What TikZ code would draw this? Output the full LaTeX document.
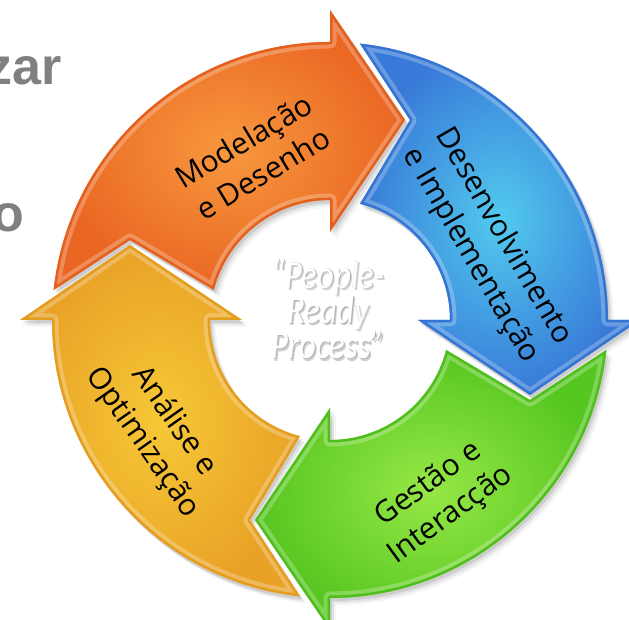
\documentclass[tikz,border=0pt]{standalone}
\usepackage{fontspec}
\setmainfont{Open Sans}
\newfontfamily\quotefont{Carlito}
\newfontfamily\slidefont{Liberation Sans}
\usetikzlibrary{calc}

% arrow colours: light centre, darker rim, edge line
\definecolor{oraIn}{RGB}{247,152,62}
\definecolor{oraOut}{RGB}{234,102,34}
\definecolor{oraEdge}{RGB}{228,96,30}
\definecolor{bluIn}{RGB}{82,202,238}
\definecolor{bluOut}{RGB}{56,122,216}
\definecolor{bluEdge}{RGB}{54,116,212}
\definecolor{grnIn}{RGB}{150,232,70}
\definecolor{grnOut}{RGB}{86,198,32}
\definecolor{grnEdge}{RGB}{80,190,28}
\definecolor{yelIn}{RGB}{246,200,55}
\definecolor{yelOut}{RGB}{233,162,38}
\definecolor{yelEdge}{RGB}{229,157,32}
\definecolor{slidegray}{RGB}{128,128,128}

\tikzset{
  % one quarter of the cycle: #1 is the angle of the tail junction,
  % the head sits 90 degrees further clockwise
  ringarrow/.style={insert path={
    ($(C)+(#1-6.19:278)$) arc[start angle=#1-6.19, end angle=#1-90, radius=278]
    -- ($(C)+(#1-90:310)$)
    -- ($(C)+(#1-90:200)+(#1-180:75)$)
    -- ($(C)+(#1-90:88)$)
    -- ($(C)+(#1-90:120)$)
    arc[start angle=#1-90, end angle=#1-14.48, radius=120]
    -- ($(C)+(#1:200)+(#1-90:80)$) -- cycle}},
  steplabel/.style={font=\fontsize{30}{38}\selectfont, align=center,
    text=black, inner sep=0pt},
  corelabel/.style={font=\quotefont\itshape\fontsize{40}{31.5}\selectfont,
    align=center, inner sep=0pt, xscale=0.82},
  slidetext/.style={font=\slidefont\bfseries\fontsize{52}{60}\selectfont,
    text=slidegray, inner sep=0pt, anchor=base east},
}

\newcommand\paintarrow[4]{% tail angle, inner colour, outer colour, edge colour
  \shade[ringarrow=#1, inner color=#2, outer color=#3];
  \begin{scope}
    \clip[ringarrow=#1];
    \draw[white, opacity=.25, line width=13, line join=round, ringarrow=#1];
    \draw[#4, line width=5, line join=round, ringarrow=#1];
  \end{scope}
}

\begin{document}
\begin{tikzpicture}[x=1pt,y=1pt]
  \useasboundingbox (0,0) rectangle (629,620);
  \clip (0,0) rectangle (629,620);
  \coordinate (C) at (330,300);
  \coordinate (P) at (328,311);

  % slide title fragments on the left
  \node[slidetext] (zarfrag) at (62,535) {zar};
  \node[slidetext] (ofrag) at (24,388) {o};

  % soft drop shadows
  \foreach \dx/\dy/\op in {2/-3/0.10, 4/-5/0.07, 6/-7/0.04} {
    \begin{scope}[transform canvas={shift={(\dx,\dy)}}]
      \foreach \a in {180,90,0,-90}
        \fill[black, opacity=\op, ringarrow=\a];
    \end{scope}
  }

  % the four arrows of the cycle
  \paintarrow{180}{oraIn}{oraOut}{oraEdge}
  \paintarrow{90}{bluIn}{bluOut}{bluEdge}
  \paintarrow{0}{grnIn}{grnOut}{grnEdge}
  \paintarrow{-90}{yelIn}{yelOut}{yelEdge}

  % stage labels
  \node[steplabel, rotate=31] (model) at (253,463) {Modelação\\e Desenho};
  \node[steplabel, rotate=-60] (devel) at (487,374) {Desenvolvimento\\e Implementação};
  \node[steplabel, rotate=36] (manage) at (440,120) {Gestão e\\Interacção};
  \node[steplabel, rotate=-55] (analyse) at (158,188) {Análise e\\Optimização};

  % centre caption: soft shadow, grey rim, white letters
  \node[corelabel, text=black, opacity=.18] (coreshadow)
    at ($(P)+(2.2,-2.6)$) {“People-\\Ready\\Process”};
  \node[corelabel, text=gray!60] (corerim)
    at ($(P)+(0.9,-0.9)$) {“People-\\Ready\\Process”};
  \node[corelabel, text=white] (core) at (P) {“People-\\Ready\\Process”};
\end{tikzpicture}
\end{document}
